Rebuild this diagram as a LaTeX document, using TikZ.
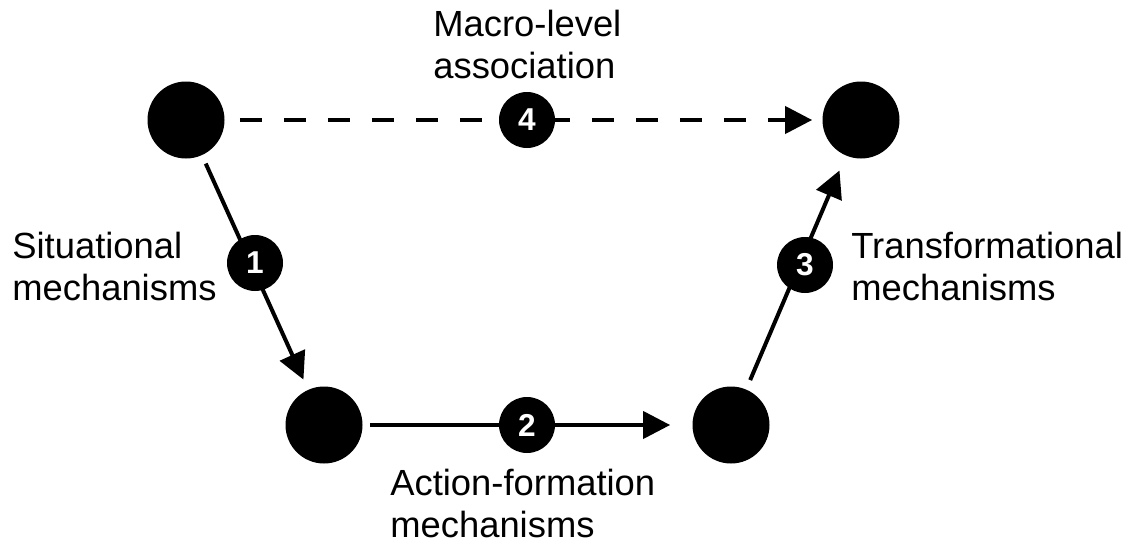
\documentclass[tikz,border=0pt]{standalone}
\usepackage{fontspec}
\setmainfont{Liberation Sans}
\usetikzlibrary{arrows.meta, shapes.geometric}
\tikzstyle{gros} = [circle, fill = black, minimum size = 1.54cm, inner sep = 0pt]
\tikzstyle{petit} = [circle, fill = black, minimum size = 1.12cm, inner sep = 0pt, text = white, font = \fontsize{18}{20}\selectfont\bfseries]
\tikzstyle{lien} = [line width = 0.08cm, -{Triangle[length = 0.54cm, width = 0.54cm]}]
\tikzstyle{etiquette} = [align = left, inner sep = 0pt, anchor = base west, font = \fontsize{20.7}{23.5}\selectfont]

\begin{document}
\begin{tikzpicture}
\useasboundingbox (0,0) rectangle (22.6,10.9);
\node (1) [gros, xshift = 3.72cm, yshift = 8.5cm] {};
\node (2) [gros, xshift = 6.48cm, yshift = 2.4cm] {};
\node (3) [gros, xshift = 14.62cm, yshift = 2.4cm] {};
\node (4) [gros, xshift = 17.22cm, yshift = 8.5cm] {};
\draw[lien, shorten < = 0.18cm, shorten > = 0.22cm] (1) -- (2);
\draw[lien, shorten < = 0.14cm, shorten > = 0.44cm] (2) -- (3);
\draw[lien, shorten < = 0.2cm, shorten > = 0.32cm] (3) -- (4);
\draw[lien, dash pattern = on 0.44cm off 0.44cm, shorten < = 0.3cm, shorten > = 0.2cm] (1) -- (4);
\node (m1) [petit, xshift = 5.1cm, yshift = 5.64cm] {1};
\node (m2) [petit, xshift = 10.54cm, yshift = 2.4cm] {2};
\node (m3) [petit, xshift = 16.1cm, yshift = 5.6cm] {3};
\node (m4) [petit, xshift = 10.54cm, yshift = 8.5cm] {4};
\node (t1) [etiquette, xshift = 0.24cm, yshift = 4.9cm] {Situational\\mechanisms};
\node (t2) [etiquette, xshift = 7.8cm, yshift = 0.16cm] {Action-formation\\mechanisms};
\node (t3) [etiquette, xshift = 17.02cm, yshift = 4.9cm] {Transformational\\mechanisms};
\node (t4) [etiquette, xshift = 8.66cm, yshift = 9.34cm] {Macro-level\\association};
\end{tikzpicture}
\end{document}
